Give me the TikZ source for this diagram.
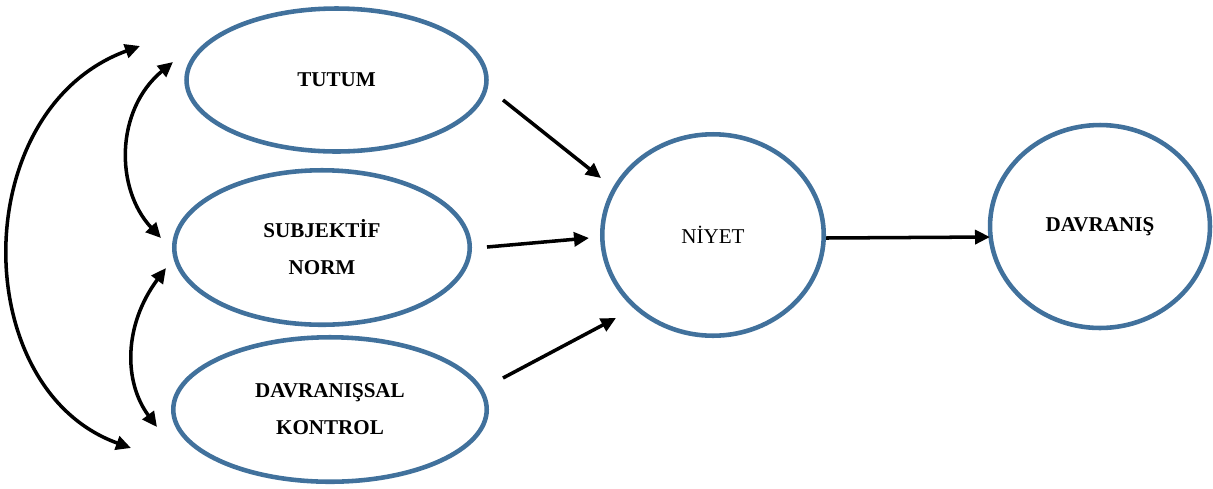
\documentclass[tikz,border=0pt]{standalone}
\usepackage{fontspec}
\setmainfont{Liberation Serif}
\usetikzlibrary{shapes.geometric,arrows.meta}
\definecolor{ovalblue}{RGB}{65,113,156}

\begin{document}
\begin{tikzpicture}[
        x=0.02cm, y=-0.02cm,
        oval/.style={
        ellipse, draw=ovalblue, line width=2.6pt,
        inner sep=0pt, align=center,
        font=\fontsize{12}{21}\selectfont\bfseries},
        arr/.style={
        line width=2pt,
        -{Triangle[length=0.3cm,width=0.28cm]}},
        twoarr/.style={
        line width=2pt,
        {Triangle[length=0.3cm,width=0.28cm]}-{Triangle[length=0.3cm,width=0.28cm]}},
        ]

        \useasboundingbox (0,0) rectangle (1213,488);

        \node (tutum) [oval, minimum width=6.0cm, minimum height=2.86cm] at (336.5,80) {TUTUM};
        \node (norm) [oval, minimum width=5.91cm, minimum height=3.09cm] at (322,247.5) {SUBJEKTİF\\NORM};
        \node (kontrol) [oval, minimum width=6.27cm, minimum height=2.89cm] at (330,409.5) {DAVRANIŞSAL\\KONTROL};
        \node (niyet) [oval, font=\fontsize{12}{14}\selectfont, minimum width=4.43cm, minimum height=4.03cm] at (713,235) {NİYET};
        \node (davranis) [oval, minimum width=4.4cm, minimum height=4.06cm] at (1100,226.5) {DAVRANIŞ};

        \coordinate (t1) at (503,100);
        \coordinate (t2) at (601,178);
        \coordinate (n1) at (487,247);
        \coordinate (n2) at (589,238);
        \coordinate (k1) at (503,378);
        \coordinate (k2) at (616,318);
        \coordinate (d1) at (826,238);
        \coordinate (d2) at (990,237);

        \draw[arr] (t1) -- (t2);
        \draw[arr] (n1) -- (n2);
        \draw[arr] (k1) -- (k2);
        \draw[arr] (d1) -- (d2);

        \coordinate (a1) at (140,46);
        \coordinate (a2) at (131,448);
        \coordinate (b1) at (173,62);
        \coordinate (b2) at (161,238);
        \coordinate (c1) at (166,268);
        \coordinate (c2) at (157,427);

        \draw[twoarr] (a1) .. controls (-33,109) and (-33,389) .. (a2);
        \draw[twoarr] (b1) .. controls (115,110) and (115,189) .. (b2);
        \draw[twoarr] (c1) .. controls (123.5,325) and (123.5,382) .. (c2);
\end{tikzpicture}
\end{document}
